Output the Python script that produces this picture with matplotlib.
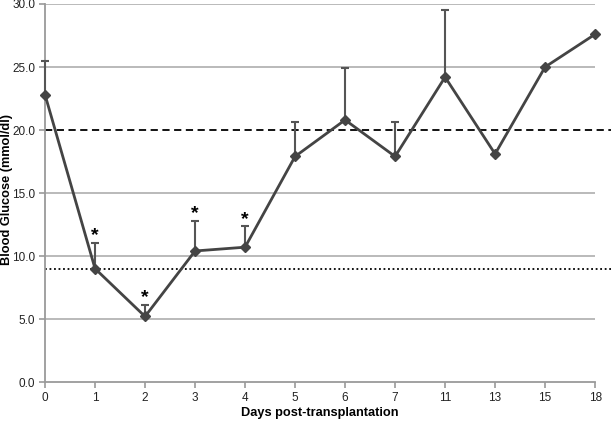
import numpy as np
import matplotlib
matplotlib.use('Agg')
import matplotlib.pyplot as plt

plt.rcParams['font.family'] = ['Liberation Sans', 'DejaVu Sans']

# data
days = ['0', '1', '2', '3', '4', '5', '6', '7', '11', '13', '15', '18']
glucose = [22.8, 9.0, 5.2, 10.4, 10.7, 17.9, 20.8, 17.9, 24.2, 18.1, 25.0, 27.6]
err_up = [2.65, 2.05, 0.9, 2.4, 1.65, 2.75, 4.1, 2.7, 5.35, 0.0, 0.0, 0.0]
signif = ['1', '2', '3', '4']
upper_line = 20.0
lower_line = 9.0

fig = plt.figure(figsize=(6.11, 4.21), dpi=100)
ax = fig.add_axes([0.0737, 0.0926, 0.9003, 0.8979])

x = np.arange(len(days))
y = np.array(glucose)
e = np.array(err_up)

# horizontal grid
for v in [5, 10, 15, 25, 30]:
    ax.axhline(v, color='#b4b4b4', lw=1.3, zorder=1)
ax.axhline(upper_line, xmin=0, xmax=1.03, color='black', lw=1.3, ls=(0, (4, 2.5)), clip_on=False, zorder=2)
ax.axhline(lower_line, xmin=0, xmax=1.03, color='black', lw=1.3, ls=(0, (1, 1.5)), clip_on=False, zorder=2)

has_err = e > 0
eb = ax.errorbar(x[has_err], y[has_err], yerr=[np.zeros(has_err.sum()), e[has_err]],
                 fmt='none', ecolor='#555555', elinewidth=1.5, capsize=3, capthick=1.5, zorder=3)
for art in eb.get_children():
    art.set_clip_on(False)
ax.plot(x, y, color='#444444', lw=2, marker='D', ms=5.5, mfc='#444444', mec='#444444',
        zorder=4, clip_on=False)

for d in signif:
    i = days.index(d)
    ax.annotate('*', (x[i], y[i] + e[i]), xytext=(0, -1), textcoords='offset points',
                ha='center', va='bottom', fontsize=14, fontweight='bold', zorder=5)

ax.set_xlim(0, len(days) - 1)
ax.set_ylim(0, 30)
ax.set_xticks(x)
ax.set_xticklabels(days)
ax.set_yticks(np.arange(0, 31, 5))
ax.set_yticklabels(['%.1f' % v for v in np.arange(0, 31, 5)])
ax.tick_params(axis='both', colors='#9a9a9a', labelcolor='#222222', labelsize=8.5, length=4, width=1.2)
ax.tick_params(axis='y', pad=3)
ax.tick_params(axis='x', pad=3)
for s in ['top', 'right']:
    ax.spines[s].set_visible(False)
for s in ['left', 'bottom']:
    ax.spines[s].set_color('#9a9a9a')
    ax.spines[s].set_linewidth(1.3)

ax.set_xlabel('Days post-transplantation', fontsize=9.2, fontweight='bold')
ax.set_ylabel('Blood Glucose (mmol/dl)', fontsize=9.2, fontweight='bold')
ax.xaxis.set_label_coords(0.5, -0.083)
ax.yaxis.set_label_coords(-0.069, 0.51)
ax.xaxis.label.set_va('center')
ax.yaxis.label.set_va('center')

plt.savefig('out.png', dpi=100)
